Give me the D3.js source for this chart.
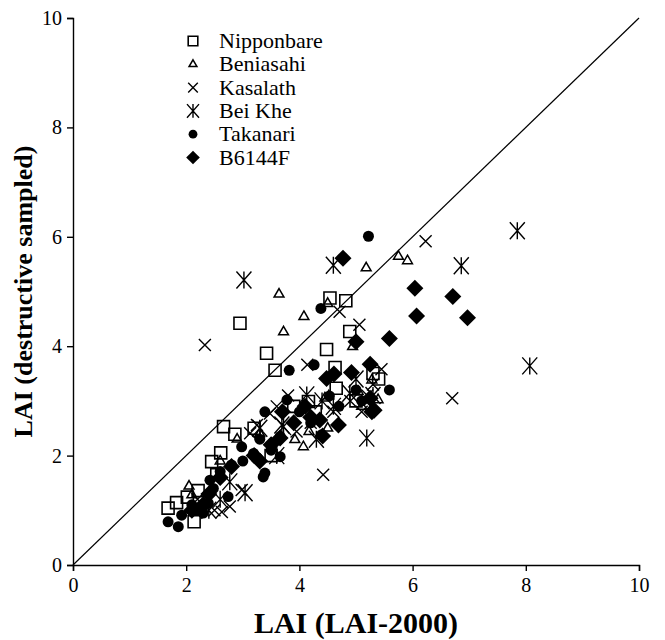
<!DOCTYPE html>
<html>
<head>
<meta charset="utf-8">
<script src="https://cdn.jsdelivr.net/npm/d3@7"></script>
<style>
  html, body { margin: 0; padding: 0; background: #fff; }
  svg { display: block; }
  svg text { font-family: "Liberation Serif", "Times New Roman", Times, serif; fill: #000; }
</style>
</head>
<body>
<svg id="chart" width="665" height="640"></svg>
<script>
// LAI measured with the LAI-2000 (x) vs. destructively sampled LAI (y)
const varieties = ["Nipponbare", "Beniasahi", "Kasalath", "Bei Khe", "Takanari", "B6144F"];
const xTicks = [0, 2, 4, 6, 8, 10];
const yTicks = [0, 2, 4, 6, 8, 10];

const nipponbare = [
  [1.68,1.04],[1.83,1.14],[2.02,1.24],[2.14,0.79],[2.21,1.36],[2.45,1.89],[2.54,1.65],
  [2.61,2.05],[2.66,2.53],[2.86,2.39],[2.95,4.42],[3.42,3.87],[3.57,3.56],[4.48,3.94],
  [4.54,4.88],[4.63,3.61],[4.82,4.83],[4.89,4.27],[3.20,2.50],[3.50,2.00],[3.90,2.90],
  [4.65,3.23],[4.16,2.99],[4.28,2.80],[5.00,3.00],[5.30,3.50],[5.40,3.40]
];
const beniasahi = [
  [2.05,1.44],[2.10,1.28],[3.64,4.95],[3.72,4.26],[4.08,4.54],[4.50,4.78],[4.94,3.99],
  [4.52,3.09],[4.17,2.44],[4.07,2.16],[3.92,2.29],[5.18,5.43],[5.75,5.64],[5.91,5.56],
  [4.45,3.05],[5.28,3.38],[5.04,3.17],[5.39,3.02],[4.50,2.50],[3.30,2.40],[2.60,1.90],
  [2.90,2.30],[5.10,2.90]
];
const kasalath = [
  [2.33,4.02],[2.63,0.97],[2.77,1.07],[2.98,1.37],[3.13,2.41],[3.25,2.56],[3.48,2.77],
  [3.95,2.44],[4.14,3.66],[4.42,1.65],[4.71,4.63],[5.06,4.39],[5.45,3.58],[6.23,5.92],
  [6.70,3.05],[2.20,1.20],[2.50,1.00],[3.60,2.90],[4.20,2.60],[4.60,2.80],[4.90,3.00],
  [5.20,3.10],[5.30,3.30],[5.10,2.80],[3.80,3.10]
];
const beiKhe = [
  [3.02,5.21],[4.60,5.48],[6.86,5.47],[7.85,6.11],[8.07,3.64],[5.19,2.32],[4.13,3.11],
  [4.89,3.14],[3.69,2.56],[3.04,1.32],[2.77,1.52],[3.30,2.50],[3.72,2.53],[2.40,1.00],
  [2.60,1.20],[4.30,2.30],[4.60,2.90],[5.00,3.40],[5.30,3.10],[3.60,2.00],[4.40,3.00]
];
const takanari = [
  [1.68,0.79],[1.86,0.70],[1.92,0.91],[2.19,1.01],[2.39,1.13],[2.42,1.55],[2.48,1.40],
  [2.60,1.71],[2.74,1.25],[2.80,1.83],[2.98,2.16],[3.19,2.04],[3.36,1.61],[3.39,2.80],
  [3.66,2.35],[3.66,1.98],[3.78,3.02],[3.82,3.56],[4.26,3.66],[4.38,4.69],[4.39,2.38],
  [4.53,3.09],[5.22,6.01],[5.59,3.20],[3.39,1.68],[2.10,1.10],[2.30,0.95],[3.00,1.90],
  [3.50,2.10],[4.00,2.80],[4.20,2.60],[4.70,2.90],[5.00,3.20],[5.10,3.00],[3.30,2.30]
];
const b6144f = [
  [4.77,5.61],[6.04,5.06],[6.07,4.55],[6.71,4.91],[6.97,4.52],[5.59,4.14],[5.00,4.08],
  [5.25,3.67],[4.92,3.52],[4.61,3.49],[4.48,3.41],[5.25,3.05],[5.32,2.83],[4.69,2.56],
  [4.41,2.36],[4.36,2.65],[3.66,2.32],[5.28,2.80],[2.10,1.00],[2.30,1.10],[2.40,1.30],
  [2.60,1.60],[2.80,1.80],[3.20,2.00],[3.30,1.90],[3.50,2.20],[3.70,2.80],[4.10,2.90],
  [4.20,2.70],[3.90,2.60]
];

const seriesData = [nipponbare, beniasahi, kasalath, beiKhe, takanari, b6144f];

const margin = { left: 73, right: 26, top: 18, bottom: 75 };
const W = 665, H = 640;
const svg = d3.select("#chart");

const x = d3.scaleLinear().domain([0, 10]).range([margin.left, W - margin.right]);
const y = d3.scaleLinear().domain([0, 10]).range([H - margin.bottom, margin.top]);

// marker shapes, drawn as paths centred on the point
const sym = {
  square: d3.symbol().type(d3.symbolSquare).size(144)(),
  triangle: d3.symbol().type(d3.symbolTriangle).size(42)(),
  cross: "M-6,-6L6,6M-6,6L6,-6",
  asterisk: "M-7.5,-8.5L7.5,8.5M-7.5,8.5L7.5,-8.5M0,-8.5L0,8.5",
  circle: d3.symbol().type(d3.symbolCircle).size(95)(),
  diamond: "M0,-8.5L8.5,0L0,8.5L-8.5,0Z"
};
const styles = [
  { d: sym.square, fill: "none", stroke: "#000", sw: 1.6 },
  { d: sym.triangle, fill: "none", stroke: "#000", sw: 1.5 },
  { d: sym.cross, fill: "none", stroke: "#000", sw: 1.4 },
  { d: sym.asterisk, fill: "none", stroke: "#000", sw: 1.4 },
  { d: sym.circle, fill: "#000", stroke: "none", sw: 0 },
  { d: sym.diamond, fill: "#000", stroke: "none", sw: 0 }
];

// 1:1 line
svg.append("line")
  .attr("x1", x(0)).attr("y1", y(0))
  .attr("x2", x(10)).attr("y2", y(10))
  .attr("stroke", "#000").attr("stroke-width", 1.2);

// points
seriesData.forEach((data, i) => {
  const st = styles[i];
  svg.append("g").selectAll("path").data(data).join("path")
    .attr("d", st.d)
    .attr("transform", d => `translate(${x(d[0])},${y(d[1])})`)
    .attr("fill", st.fill)
    .attr("stroke", st.stroke)
    .attr("stroke-width", st.sw);
});

// axes
const xAxis = svg.append("g")
  .attr("transform", `translate(0,${y(0)})`)
  .call(d3.axisBottom(x).tickValues(xTicks).tickSize(6).tickPadding(7).tickFormat(d3.format("d")));
const yAxis = svg.append("g")
  .attr("transform", `translate(${x(0)},0)`)
  .call(d3.axisLeft(y).tickValues(yTicks).tickSize(6).tickPadding(5).tickFormat(d3.format("d")));
[xAxis, yAxis].forEach(g => {
  g.attr("font-family", null).attr("font-size", null);
  g.select(".domain").attr("stroke", "#000").attr("stroke-width", 1.4);
  g.selectAll(".tick line").attr("stroke", "#000").attr("stroke-width", 1.4);
  g.selectAll(".tick text")
    .style("font-family", "'Liberation Serif', 'Times New Roman', serif")
    .style("font-size", "20px").attr("fill", "#000");
});

// axis titles
svg.append("text")
  .attr("x", (x(0) + x(10)) / 2).attr("y", 633)
  .attr("text-anchor", "middle")
  .style("font-size", "30px").style("font-weight", "bold")
  .text("LAI (LAI-2000)");
svg.append("text")
  .attr("transform", `translate(32,${(y(0) + y(10)) / 2}) rotate(-90)`)
  .attr("text-anchor", "middle")
  .style("font-size", "26px").style("font-weight", "bold")
  .text("LAI (destructive sampled)");

// legend
const legend = svg.append("g");
varieties.forEach((name, i) => {
  const ly = 41 + i * 23.3;
  const st = styles[i];
  const k = 0.8;
  legend.append("path")
    .attr("d", st.d)
    .attr("transform", `translate(193,${ly}) scale(${k})`)
    .attr("fill", st.fill).attr("stroke", st.stroke)
    .attr("stroke-width", st.sw / k);
  legend.append("text")
    .attr("x", 219).attr("y", ly + 7)
    .style("font-size", "22px")
    .text(name);
});
</script>
</body>
</html>
